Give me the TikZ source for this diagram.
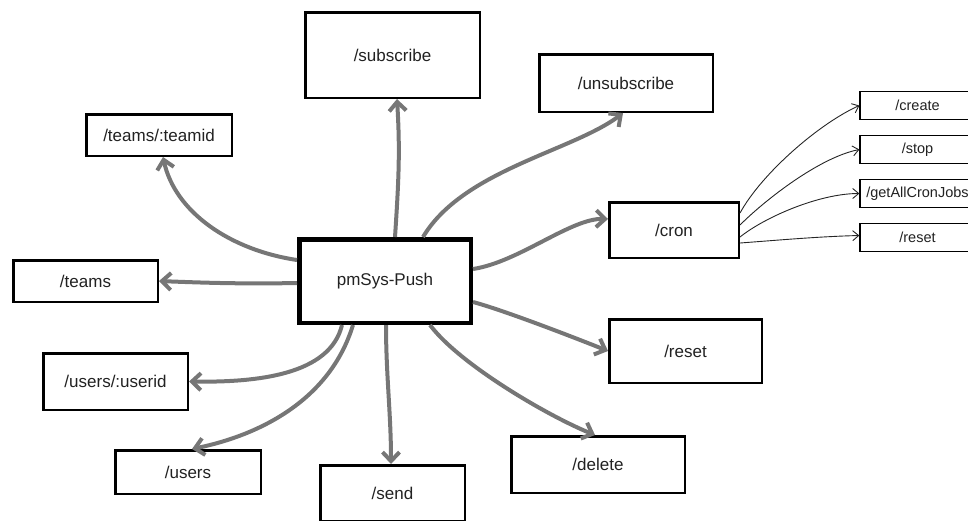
\documentclass[tikz,border=0pt]{standalone}
\usepackage{fontspec}
\setmainfont{Liberation Sans}
\usetikzlibrary{arrows.meta}
\definecolor{arr}{RGB}{118,118,118}
\definecolor{txt}{RGB}{34,34,34}
\begin{document}
\begin{tikzpicture}[x=1pt,y=-1pt,
  box/.style={draw=black, line width=2.5pt, fill=white, text=txt, inner sep=0pt,
    font=\fontsize{17}{20}\selectfont},
  hub/.style={box, line width=4.5pt},
  sbox/.style={draw=black, line width=1.3pt, fill=white, text=txt, inner sep=0pt,
    minimum width=115pt, minimum height=27.7pt, font=\fontsize{14.5}{17}\selectfont},
  conn/.style={draw=arr, line width=4pt, -{Straight Barb[length=9pt,width=17pt]}},
  sconn/.style={draw=black!85, line width=0.9pt, -{Straight Barb[length=6pt,width=10pt]}}
]
\useasboundingbox (0,0) rectangle (968,520);
\clip (0,0) rectangle (968,520);

% nodes
\node[hub, minimum width=171.5pt, minimum height=83.5pt] (p) at (385,281) {pmSys-Push};
\node[box, minimum width=174.5pt, minimum height=85.5pt] (sub) at (392.5,55) {/subscribe};
\node[box, minimum width=173.5pt, minimum height=57.5pt] (unsub) at (626,83) {/unsubscribe};
\node[box, minimum width=145.5pt, minimum height=41.5pt] (teamid) at (159,135) {/teams/:teamid};
\node[box, minimum width=144.5pt, minimum height=41.5pt] (teams) at (85.5,281) {/teams};
\node[box, minimum width=144.5pt, minimum height=56.5pt] (userid) at (115.5,381.5) {/users/:userid};
\node[box, minimum width=145.5pt, minimum height=43.5pt] (users) at (188,472) {/users};
\node[box, minimum width=144.5pt, minimum height=55.5pt] (send) at (392.5,493) {/send};
\node[box, minimum width=173.5pt, minimum height=56.5pt] (delete) at (598,464.5) {/delete};
\node[box, minimum width=152.5pt, minimum height=63.5pt] (reset) at (685.5,351) {/reset};
\node[box, minimum width=129.5pt, minimum height=55.5pt] (cron) at (674,230) {/cron};

\node[sbox] (create) at (917.5,105.5) {/create};
\node[sbox] (stop) at (917.5,149.5) {/stop};
\node[sbox] (getall) at (917.5,193.5) {/getAllCronJobs};
\node[sbox] (creset) at (917.5,237.5) {/reset};

% thick connectors
\draw[conn] ([xshift=10pt]p.north) .. controls +(4,-60) and +(3,50) .. ([xshift=4.5pt]sub.south);
\draw[conn] ([xshift=38pt]p.north) .. controls +(40,-67) and +(-50,38) .. ([xshift=-3pt]unsub.south);
\draw[conn] ([yshift=12pt]p.east) .. controls +(46,-7) and +(-37,-1) .. ([yshift=11pt]cron.west);
\draw[conn] ([yshift=-21pt]p.east) .. controls +(30,8) and +(-35,-14) .. (reset.west);
\draw[conn] ([xshift=45pt]p.south) .. controls +(30,40) and +(-45,-18) .. ([xshift=-3pt]delete.north);
\draw[conn] ([xshift=1pt]p.south) .. controls +(0,50) and +(0,-50) .. ([xshift=-1.5pt]send.north);
\draw[conn] ([xshift=-43pt]p.south) .. controls +(-12,50) and +(68,1) .. (userid.east);
\draw[conn] ([xshift=-32pt]p.south) .. controls +(-23,75) and +(68,-14) .. ([xshift=4pt]users.north);
\draw[conn] ([yshift=21pt]p.west) .. controls +(-67,-10) and +(12,55) .. ([xshift=4pt]teamid.south);
\draw[conn] ([yshift=-2pt]p.west) .. controls +(-50,1) and +(50,2) .. (teams.east);

% thin connectors from /cron
\draw[sconn] ([yshift=17pt]cron.east) .. controls +(22,-40) and +(-40,18) .. (create.west);
\draw[sconn] ([yshift=5pt]cron.east) .. controls +(25,-25) and +(-40,8) .. (stop.west);
\draw[sconn] ([yshift=-7pt]cron.east) .. controls +(25,-20) and +(-40,0) .. (getall.west);
\draw[sconn] ([yshift=-13pt]cron.east) .. controls +(40,-3) and +(-40,1) .. ([yshift=2pt]creset.west);
\end{tikzpicture}
\end{document}
